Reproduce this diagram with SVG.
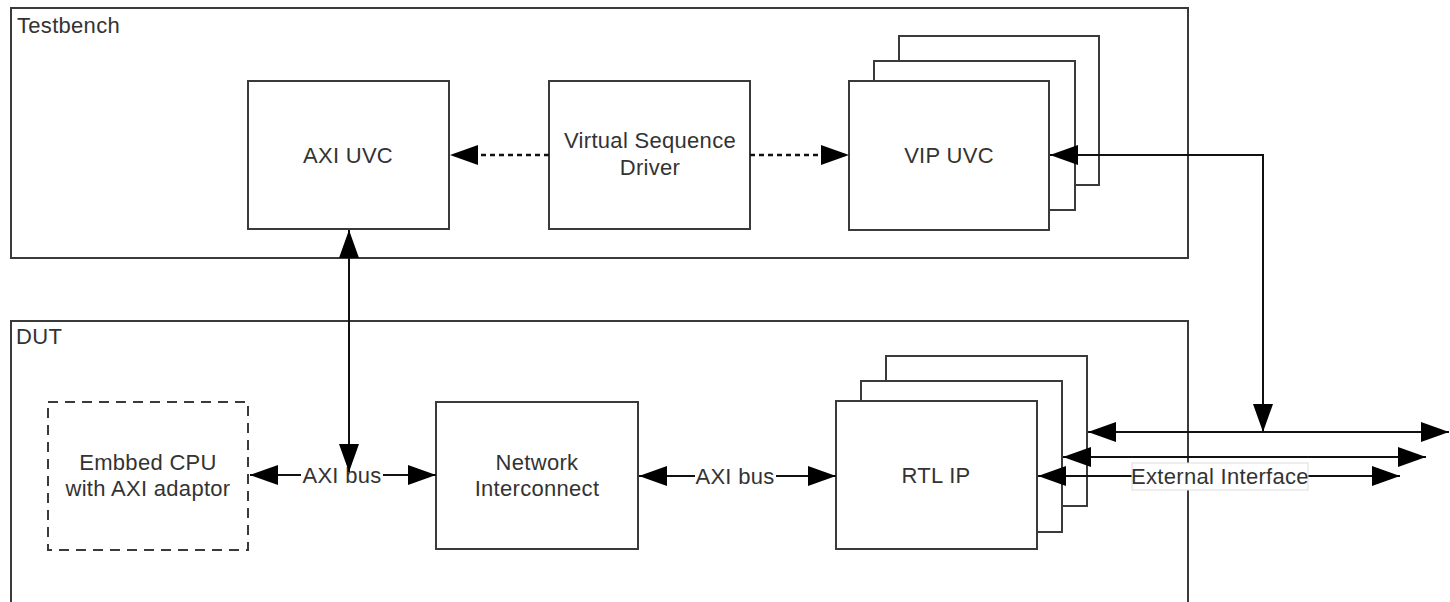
<svg xmlns="http://www.w3.org/2000/svg" width="1450" height="602" viewBox="0 0 1450 602">
<style>
.box{fill:#fff;stroke:#3a3a3a;stroke-width:2}
.cont{fill:none;stroke:#3a3a3a;stroke-width:2}
.dash{fill:#fff;stroke:#3a3a3a;stroke-width:2;stroke-dasharray:10 7}
.t{font-family:"Liberation Sans",Arial,sans-serif;font-size:22px;letter-spacing:0.3px;fill:#333}
.c{text-anchor:middle}
.ln{fill:none;stroke:#111;stroke-width:2}
.dot{fill:none;stroke:#111;stroke-width:2.5;stroke-dasharray:5 4}
</style>
<defs>
<marker id="ah" markerUnits="userSpaceOnUse" markerWidth="28" markerHeight="20" refX="28" refY="10" orient="auto-start-reverse" viewBox="0 0 28 20">
<path d="M0,0 L28,10 L0,20 z" fill="#000"/>
</marker>
</defs>

<g id="testbench">
<rect class="cont" x="11" y="8" width="1177" height="250"/>
<text class="t" x="17" y="33">Testbench</text>
</g>
<g id="dut">
<path class="cont" d="M11,610 V321 H1188 V610"/>
<text class="t" x="16" y="344">DUT</text>
</g>

<g id="axi-uvc">
<rect class="box" x="248" y="81" width="201" height="148"/>
<text class="t c" x="348" y="163">AXI UVC</text>
</g>
<g id="vsd">
<rect class="box" x="549" y="81" width="201" height="148"/>
<text class="t c" x="650" y="148">Virtual Sequence</text>
<text class="t c" x="650" y="175">Driver</text>
</g>
<g id="vip-uvc">
<rect class="box" x="899" y="36" width="200" height="149"/>
<rect class="box" x="874" y="61" width="201" height="149"/>
<rect class="box" x="849" y="81" width="200" height="149"/>
<text class="t c" x="949" y="163">VIP UVC</text>
</g>

<g id="cpu">
<rect class="dash" x="48" y="402" width="200" height="148"/>
<text class="t c" x="148" y="470">Embbed CPU</text>
<text class="t c" x="148" y="496">with AXI adaptor</text>
</g>
<g id="noc">
<rect class="box" x="436" y="402" width="202" height="147"/>
<text class="t c" x="537" y="470">Network</text>
<text class="t c" x="537" y="496">Interconnect</text>
</g>
<g id="rtl-ip">
<rect class="box" x="886" y="356" width="201" height="150"/>
<rect class="box" x="861" y="381" width="201" height="151"/>
<rect class="box" x="836" y="401" width="201" height="148"/>
<text class="t c" x="936" y="483">RTL IP</text>
</g>

<g id="connectors">
<line class="dot" x1="549" y1="155" x2="450" y2="155" marker-end="url(#ah)"/>
<line class="dot" x1="750" y1="155" x2="849" y2="155" marker-end="url(#ah)"/>
<polyline class="ln" points="1263,432 1263,155 1050,155" marker-start="url(#ah)" marker-end="url(#ah)"/>
<!-- AXI bus 1 -->
<line class="ln" x1="250" y1="475" x2="436" y2="475" marker-start="url(#ah)" marker-end="url(#ah)"/>
<rect x="301" y="464" width="82" height="22" fill="#fff"/>
<text class="t c" x="342" y="483">AXI bus</text>
<line class="ln" x1="349" y1="230" x2="349" y2="472" marker-start="url(#ah)" marker-end="url(#ah)"/>
<!-- AXI bus 2 -->
<line class="ln" x1="639" y1="476" x2="836" y2="476" marker-start="url(#ah)" marker-end="url(#ah)"/>
<rect x="695" y="465" width="81" height="22" fill="#fff"/>
<text class="t c" x="735" y="484">AXI bus</text>
<!-- external interfaces -->
<line class="ln" x1="1088" y1="432" x2="1449" y2="432" marker-start="url(#ah)" marker-end="url(#ah)"/>
<line class="ln" x1="1063" y1="457" x2="1426" y2="457" marker-start="url(#ah)" marker-end="url(#ah)"/>
<line class="ln" x1="1038" y1="476" x2="1400" y2="476" marker-start="url(#ah)" marker-end="url(#ah)"/>
<rect x="1132" y="463" width="176" height="27" fill="#fff" stroke="#ddd" stroke-width="1"/>
<text class="t c" x="1220" y="484">External Interface</text>
</g>
</svg>
